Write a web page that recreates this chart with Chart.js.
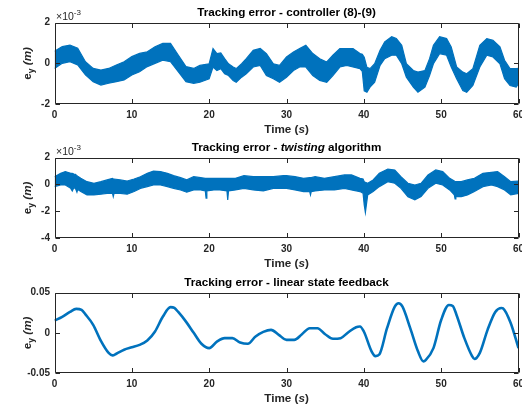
<!DOCTYPE html>
<html>
<head>
<meta charset="utf-8">
<script src="https://cdn.jsdelivr.net/npm/chart.js@4/dist/chart.umd.min.js"></script>
<style>
html,body{margin:0;padding:0;background:#fff;}
#wrap{position:relative;width:522px;height:411px;overflow:hidden;background:#fff;}
canvas{position:absolute;left:0;}
</style>
</head>
<body>
<div id="wrap">
<canvas id="c1" width="522" height="137" style="top:0px"></canvas>
<canvas id="c2" width="522" height="135" style="top:135px"></canvas>
<canvas id="c3" width="522" height="141" style="top:270px"></canvas>
</div>
<script>
// ---------- data ----------
const xTicks = [0, 10, 20, 30, 40, 50, 60];
const yTicks1 = [-2, 0, 2];
const yTickLabels1 = ['-2', '0', '2'];
const yTicks2 = [-4, -2, 0, 2];
const yTickLabels2 = ['-4', '-2', '0', '2'];
const yTicks3 = [-0.05, 0, 0.05];
const yTickLabels3 = ['-0.05', '0', '0.05'];

// Plot 1: controller (8)-(9), values in units of 1e-3 m (upper / lower envelope of the noisy band)
const t1 = [0,1,2,3,4,5,6,7,8,9,10,11,12,13,14,15,16,17,18,18.8,
  20,20.5,21,21.5,22,22.5,23.1,23.5,24.2,24.8,25.7,26.6,27.4,28.3,29.1,
  30,30.9,31.7,32.5,33.4,34.3,35.2,36,36.9,37.8,38.6,39.5,39.8,
  40.05,40.4,40.8,41.4,42.1,42.7,43.6,44.2,44.9,45.5,46.4,47,47.9,48.5,49,49.8,
  50.7,51.3,52,52.8,53.3,54.1,55,55.9,56.7,57.6,58.2,58.9,59.7,60];
const up1 = [0.6,0.82,0.9,0.74,0.08,-0.25,-0.33,-0.25,-0.08,0.08,0.33,0.49,0.57,0.82,0.98,0.98,0.41,-0.16,-0.25,-0.1,
  -0.02,0.73,0.48,0.51,0.23,-0.02,-0.18,-0.26,-0.02,0.23,0.64,0.73,0.48,-0.02,-0.1,
  0.31,0.56,0.73,0.89,0.48,0.23,0.07,0.4,0.73,0.73,0.73,0.48,0.45,
  0.3,-0.2,-0.26,-0.02,0.64,1.06,1.31,1.22,0.89,-0.02,-0.35,-0.43,-0.35,0.23,0.89,1.31,
  1.22,0.81,-0.18,-0.43,-0.51,-0.26,0.89,1.22,1.14,0.81,0.15,-0.26,-0.26,-0.25];
const lo1 = [-0.25,0.0,0.08,-0.08,-0.57,-0.9,-1.07,-0.98,-0.9,-0.82,-0.57,-0.41,-0.16,0,0.16,0.08,-0.41,-0.9,-0.98,-0.93,
  -0.76,-0.18,-0.35,-0.26,-0.51,-0.6,-0.84,-0.93,-0.68,-0.51,-0.18,-0.1,-0.6,-0.76,-0.93,
  -0.68,-0.35,-0.18,-0.18,-0.6,-0.84,-0.93,-0.6,-0.18,-0.1,-0.18,-0.26,-0.4,
  -1.35,-1.42,-1.17,-0.93,-0.1,0.23,0.4,0.4,-0.02,-0.68,-1.17,-1.42,-1.17,-0.6,-0.02,0.48,
  0.4,-0.18,-0.76,-1.34,-1.42,-1.09,-0.18,0.4,0.31,-0.02,-0.76,-1.09,-1.17,-1.0];

// Plot 2: twisting algorithm, values in units of 1e-3 m
const t2 = [0,0.8,1.4,2.1,2.3,2.5,2.7,2.9,3.0,3.4,4.2,5.1,6,6.8,7.5,7.6,7.7,8.5,9.4,
  10.3,11.1,12,12.8,13.7,14.6,15.4,16.3,17.1,18,18.9,19.5,19.6,19.7,
  20.6,21.4,22.3,22.4,22.5,23.4,24.5,25.7,27,28.3,29.6,
  30,31.1,32.2,33.0,33.1,33.2,33.7,34.9,36.2,37.5,38.4,39.5,39.9,
  40.05,40.2,40.5,41.2,42,43.1,44,44.8,45.7,46.6,47.4,48.3,49.3,
  50.2,51.1,51.7,51.8,51.9,52.6,53.4,54.3,55.4,56.5,57.3,58.2,59,60];
const up2 = [0.58,0.83,0.96,0.83,0.83,0.78,0.76,0.66,0.61,0.46,0.21,0.09,0.21,0.34,0.46,0.41,0.41,0.34,0.26,
  0.41,0.58,0.83,1.0,0.96,0.83,0.66,0.51,0.34,0.58,0.51,0.46,0.46,0.46,
  0.46,0.46,0.46,0.46,0.46,0.46,0.66,0.58,0.58,0.58,0.66,
  0.66,0.58,0.46,0.51,0.51,0.51,0.58,0.46,0.58,0.71,0.71,0.46,0.41,
  0.21,0.16,0.09,0.34,0.83,1.15,1.08,0.58,0.09,-0.04,0.09,0.71,1.08,
  0.96,0.46,0.26,0.21,0.21,0.21,0.34,0.46,0.83,0.91,0.96,0.58,0.21,0.26];
const lo2 = [-0.16,-0.04,-0.04,-0.29,-0.48,-0.24,-0.29,-0.58,-0.38,-0.53,-0.78,-0.78,-0.73,-0.66,-0.66,-0.91,-0.66,-0.66,-0.73,
  -0.53,-0.29,-0.16,-0.04,-0.04,-0.16,-0.29,-0.41,-0.58,-0.41,-0.41,-0.48,-1.03,-0.48,
  -0.41,-0.41,-0.48,-1.15,-0.48,-0.41,-0.29,-0.41,-0.48,-0.29,-0.29,
  -0.29,-0.41,-0.53,-0.53,-0.78,-0.53,-0.48,-0.41,-0.41,-0.29,-0.41,-0.53,-0.66,
  -1.53,-2.1,-0.78,-0.53,-0.16,0.21,0.09,-0.29,-0.91,-1.15,-0.91,-0.29,0.09,
  -0.04,-0.41,-0.78,-1.08,-0.91,-0.91,-0.78,-0.53,-0.16,-0.04,-0.16,-0.41,-0.78,-0.66];

// Plot 3: linear state feedback, values in m
const t3 = [0,1,2,2.8,3.5,4,5,6,7,7.5,8,9,10,11,12,13,14,15,15.5,16,17,18,19,20,
  21,22,23,24,25,26,27,28,29,30,31,32,33,34,35,36,37,38,39,39.5,40,
  41,41.5,42,43,44,44.5,45,46,47,47.7,48,49,50,51,51.5,52,53,54,54.3,55,56,57,57.8,58,59,60];
const e3 = [0.0153,0.020,0.026,0.0298,0.0285,0.023,0.010,-0.010,-0.025,-0.028,-0.026,-0.021,-0.018,-0.015,-0.0095,0.0017,0.020,0.032,0.031,0.026,0.014,0,-0.0136,-0.019,
  -0.011,-0.0066,-0.0066,-0.012,-0.0136,-0.0045,0.0012,0.0037,-0.0025,-0.0087,-0.0087,-0.0017,0.0058,0.0058,-0.0017,-0.0074,-0.0066,0.0008,0.007,0.0079,0.0017,
  -0.023,-0.029,-0.027,0.0058,0.0326,0.0368,0.0326,0.0058,-0.023,-0.0355,-0.034,-0.019,0.016,0.0347,0.0335,0.022,-0.0066,-0.029,-0.0326,-0.025,0.0037,0.026,0.031,0.0306,0.012,-0.019];

// ---------- drawing ----------
const BLUE = '#0072BD';
const FAM = '"Liberation Sans", Arial, Helvetica, sans-serif';
const AX = '#262626';
Chart.defaults.font.family = FAM;

function fontOf(s) {
  return (s.italic ? 'italic ' : '') + (s.bold === false ? '' : 'bold ') + s.size + 'px ' + FAM;
}
function rich(ctx, segs, x, y, align) {
  const w = segs.map(s => { ctx.font = fontOf(s); return ctx.measureText(s.t).width; });
  const total = w.reduce((a, b) => a + b, 0);
  let cx = align === 'center' ? x - total / 2 : x;
  segs.forEach((s, i) => { ctx.font = fontOf(s); ctx.fillText(s.t, cx, y + (s.dy || 0)); cx += w[i]; });
}

const framePlugin = {
  id: 'frame',
  afterDraw(chart, args, opts) {
    const ctx = chart.ctx;
    const a = chart.chartArea;
    const xs = chart.scales.x, ys = chart.scales.y;
    const L = Math.round(a.left) + 0.5, R = Math.round(a.right) - 0.5;
    const T = Math.round(a.top) + 0.5, B = Math.round(a.bottom) - 0.5;
    ctx.save();
    ctx.strokeStyle = AX;
    ctx.lineWidth = 1;
    ctx.beginPath();
    ctx.rect(L, T, R - L, B - T);
    const tl = 4.5;
    xs.ticks.forEach(tk => {
      const px = Math.round(xs.getPixelForValue(tk.value)) + 0.5;
      ctx.moveTo(px, B); ctx.lineTo(px, B - tl);
      ctx.moveTo(px, T); ctx.lineTo(px, T + tl);
    });
    ys.ticks.forEach(tk => {
      const py = Math.round(ys.getPixelForValue(tk.value)) + 0.5;
      ctx.moveTo(L, py); ctx.lineTo(L + tl, py);
      ctx.moveTo(R, py); ctx.lineTo(R - tl, py);
    });
    ctx.stroke();

    const cx = (a.left + a.right) / 2;
    // title
    ctx.fillStyle = '#000';
    ctx.textBaseline = 'middle';
    rich(ctx, opts.title, cx, a.top - 9.5, 'center');
    // x label
    ctx.fillStyle = AX;
    rich(ctx, [
      {t: 'Time (', size: 11.7},
      {t: 's', size: 11.7, italic: true},
      {t: ')', size: 11.7}
    ], cx, a.bottom + 26, 'center');
    // y label (rotated)
    ctx.save();
    ctx.translate(30.5, (a.top + a.bottom) / 2);
    ctx.rotate(-Math.PI / 2);
    ctx.textBaseline = 'alphabetic';
    rich(ctx, [
      {t: 'e', size: 11.7},
      {t: 'y', size: 8.5, dy: 3},
      {t: ' (m)', size: 11.7, italic: true}
    ], 0, 0, 'center');
    ctx.restore();
    // exponent label
    if (opts.expo) {
      ctx.textBaseline = 'alphabetic';
      ctx.fillStyle = AX;
      rich(ctx, [
        {t: '\u00d710', size: 10.5, bold: false},
        {t: '-3', size: 8, bold: false, dy: -4.5}
      ], a.left + 1.5, a.top - 3, 'left');
    }
    ctx.restore();
  }
};

function pts(t, v) { return t.map((x, i) => ({x: x, y: v[i]})); }

function build(id, H, plotBottom, yMin, yMax, yTicks, yLabels, datasets, title, expo) {
  const tickFont = {family: FAM, size: 10, weight: 'bold'};
  return new Chart(document.getElementById(id), {
    type: 'line',
    data: {datasets: datasets},
    options: {
      responsive: false,
      animation: false,
      layout: {padding: {top: 22.7, right: 3.5, left: 0, bottom: H - plotBottom - 20}},
      elements: {point: {radius: 0}},
      plugins: {
        legend: {display: false},
        tooltip: {enabled: false},
        frame: {title: title, expo: expo}
      },
      scales: {
        x: {
          type: 'linear', min: 0, max: 60,
          grid: {display: false, drawTicks: false},
          border: {display: false},
          afterBuildTicks: s => { s.ticks = xTicks.map(v => ({value: v})); },
          afterFit: s => { s.height = 20; s.paddingLeft = 0; s.paddingRight = 0; },
          ticks: {padding: 5.7, font: tickFont, color: AX, maxRotation: 0, autoSkip: false,
                  callback: v => String(v)}
        },
        y: {
          type: 'linear', min: yMin, max: yMax,
          grid: {display: false, drawTicks: false},
          border: {display: false},
          afterBuildTicks: s => { s.ticks = yTicks.map(v => ({value: v})); },
          afterFit: s => { s.width = 54.5; s.paddingTop = 0; s.paddingBottom = 0; },
          ticks: {padding: 4.5, font: tickFont, color: AX, autoSkip: false,
                  callback: (v, i) => yLabels[i]}
        }
      }
    },
    plugins: [framePlugin]
  });
}

function band(t, lo, up) {
  return [
    {data: pts(t, lo), borderColor: BLUE, borderWidth: 1.2, fill: false, tension: 0},
    {data: pts(t, up), borderColor: BLUE, backgroundColor: BLUE, borderWidth: 1.2, fill: '-1', tension: 0}
  ];
}

build('c1', 137, 104, -2, 2, yTicks1, yTickLabels1, band(t1, lo1, up1),
  [{t: 'Tracking error - controller (8)-(9)', size: 11.7}], true);

build('c2', 135, 103, -4, 2, yTicks2, yTickLabels2, band(t2, lo2, up2),
  [{t: 'Tracking error - ', size: 11.7}, {t: 'twisting', size: 11.7, italic: true}, {t: ' algorithm', size: 11.7}], true);

build('c3', 141, 103, -0.05, 0.05, yTicks3, yTickLabels3,
  [{data: pts(t3, e3), borderColor: BLUE, borderWidth: 2.6, fill: false, tension: 0.4, cubicInterpolationMode: 'monotone'}],
  [{t: 'Tracking error - linear state feedback', size: 11.7}], false);
</script>
</body>
</html>
